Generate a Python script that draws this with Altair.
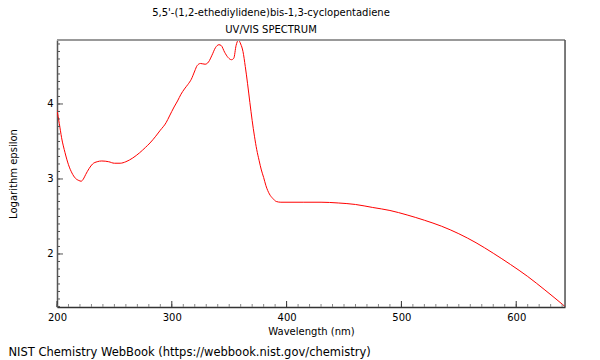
import altair as alt
import pandas as pd

# ---- data ----
wavelength = [200, 202, 204, 207, 210, 213, 216, 219, 221, 223, 225, 228, 231, 235, 239,
              245, 250, 255, 260, 266, 272, 277, 281, 286, 290, 295, 298, 302, 305, 308,
              311, 314, 317, 320, 322, 325, 329, 332, 335, 338, 341, 343, 346, 349, 352,
              354, 356, 358, 360, 362, 364, 366, 368, 370, 372, 374, 376, 378, 380, 382,
              385, 388, 391, 395, 415, 430, 445, 460, 475, 490, 505, 520, 535, 550, 565,
              580, 595, 610, 625, 642.5]
log_eps = [3.92, 3.74, 3.55, 3.35, 3.19, 3.08, 3.01, 2.98, 2.97, 3.00, 3.06, 3.14, 3.20, 3.23, 3.24,
           3.23, 3.21, 3.21, 3.23, 3.28, 3.35, 3.42, 3.48, 3.57, 3.65, 3.75, 3.84, 3.96, 4.04, 4.13,
           4.20, 4.26, 4.33, 4.44, 4.51, 4.54, 4.53, 4.56, 4.65, 4.75, 4.79, 4.78, 4.69, 4.62, 4.59,
           4.61, 4.78, 4.85, 4.80, 4.70, 4.50, 4.27, 4.02, 3.78, 3.57, 3.39, 3.25, 3.12, 3.02, 2.91,
           2.80, 2.74, 2.70, 2.69, 2.69, 2.69, 2.68, 2.66, 2.62, 2.58, 2.52, 2.45, 2.37, 2.27, 2.15,
           2.01, 1.86, 1.70, 1.52, 1.30]

x_major = [200, 300, 400, 500, 600]
x_minor = list(range(200, 650, 10))
y_major = [2, 3, 4]
y_minor = [round(1.3 + 0.1 * i, 1) for i in range(36)]

title_lines = ["5,5'-(1,2-ethediylidene)bis-1,3-cyclopentadiene", "UV/VIS SPECTRUM"]
footer = "NIST Chemistry WebBook (https://webbook.nist.gov/chemistry)"

X_DOMAIN = [200, 642.5]
Y_DOMAIN = [1.293, 4.853]
W, H = 508, 267
FONT = "DejaVu Sans"

xs = alt.Scale(domain=X_DOMAIN, nice=False, zero=False)
ys = alt.Scale(domain=Y_DOMAIN, nice=False, zero=False)

spec = pd.DataFrame({"wl": wavelength, "le": log_eps})

line = alt.Chart(spec).mark_line(color="#ff0000", strokeWidth=1, interpolate="monotone", clip=True).encode(
    x=alt.X("wl:Q", scale=xs, axis=alt.Axis(values=x_major, format="d", ticks=False, grid=False,
                                            labelFontSize=10, labelFont=FONT, labelColor="#000",
                                            labelPadding=5, labelFlush=False,
                                            title="Wavelength (nm)", titleFont=FONT, titleFontSize=10,
                                            titleFontWeight="normal", titleColor="#000", titlePadding=4,
                                            domainColor="#333", domainWidth=1.5)),
    y=alt.Y("le:Q", scale=ys, axis=alt.Axis(values=y_major, format="d", ticks=False, grid=False,
                                            labelFontSize=10, labelFont=FONT, labelColor="#000",
                                            labelPadding=4, labelFlush=False,
                                            title="Logarithm epsilon", titleFont=FONT, titleFontSize=10,
                                            titleFontWeight="normal", titleColor="#000", titlePadding=28,
                                            domainColor="#555", domainWidth=1.5)),
)

xmin_df = pd.DataFrame({"t": x_minor})
xmaj_df = pd.DataFrame({"t": x_major})
ymin_df = pd.DataFrame({"t": y_minor})
ymaj_df = pd.DataFrame({"t": y_major})

x_minor_ticks = alt.Chart(xmin_df).mark_rule(color="#888", strokeWidth=1).encode(
    x=alt.X("t:Q", scale=xs), y=alt.value(H), y2=alt.value(H - 3))
x_major_ticks = alt.Chart(xmaj_df).mark_rule(color="#333", strokeWidth=1).encode(
    x=alt.X("t:Q", scale=xs), y=alt.value(H), y2=alt.value(H - 6))
y_minor_ticks = alt.Chart(ymin_df).mark_rule(color="#555", strokeWidth=1).encode(
    y=alt.Y("t:Q", scale=ys), x=alt.value(0), x2=alt.value(3))
y_major_ticks = alt.Chart(ymaj_df).mark_rule(color="#555", strokeWidth=1).encode(
    y=alt.Y("t:Q", scale=ys), x=alt.value(0), x2=alt.value(6))

one = pd.DataFrame({"a": [0]})
top_frame = alt.Chart(one).mark_rule(color="#999", strokeWidth=2).encode(
    x=alt.value(0), x2=alt.value(W), y=alt.value(0))
right_frame = alt.Chart(one).mark_rule(color="#555", strokeWidth=1.5).encode(
    x=alt.value(W), y=alt.value(0), y2=alt.value(H))

t1 = alt.Chart(pd.DataFrame({"s": [title_lines[0]]})).mark_text(
    font=FONT, fontSize=10, color="#000", align="center", baseline="middle").encode(
    text="s:N", x=alt.value(214), y=alt.value(-27.5))
t2 = alt.Chart(pd.DataFrame({"s": [title_lines[1]]})).mark_text(
    font=FONT, fontSize=10, color="#000", align="center", baseline="middle").encode(
    text="s:N", x=alt.value(214), y=alt.value(-10.5))
foot = alt.Chart(pd.DataFrame({"s": [footer]})).mark_text(
    font=FONT, fontSize=11.5, color="#000", align="left", baseline="middle").encode(
    text="s:N", x=alt.value(-48.5), y=alt.value(312.5))

chart = alt.layer(line, x_minor_ticks, x_major_ticks, y_minor_ticks, y_major_ticks,
                  top_frame, right_frame, t1, t2, foot).properties(
    width=W, height=H,
    autosize=alt.AutoSizeParams(type="none"),
    padding={"left": 49, "top": 32, "right": 20, "bottom": 52},
).configure_view(stroke=None).configure(background="white")

chart.save("out.html", embed_options={"renderer": "svg", "actions": False})
